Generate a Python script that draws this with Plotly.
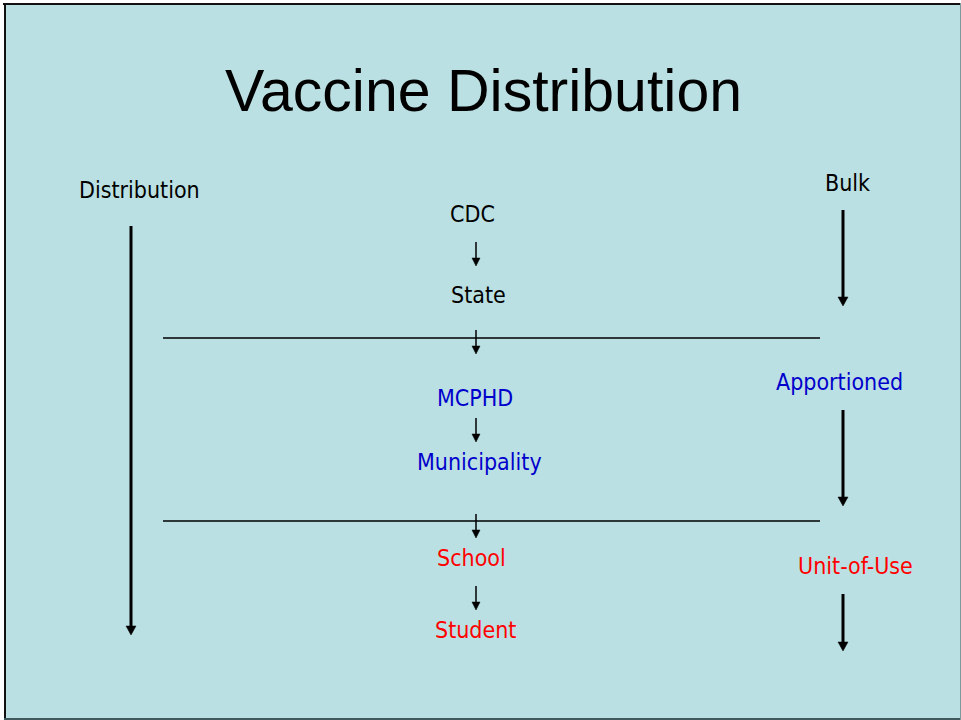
import plotly.graph_objects as go

# ---- content ----
title_text = "Vaccine Distribution"
center_labels = ["CDC", "State", "MCPHD", "Municipality", "School", "Student"]
center_colors = ["#000000", "#000000", "#0000CC", "#0000CC", "#FF0000", "#FF0000"]
side_labels = ["Distribution", "Bulk", "Apportioned", "Unit-of-Use"]
side_colors = ["#000000", "#000000", "#0000CC", "#FF0000"]

# ---- layout positions (pixel space, y downward) ----
center_x = [472, 478, 475, 479, 471, 475]
center_y = [214, 295, 398, 462, 558, 630]
side_x = [139, 847, 839, 855]
side_y = [190, 183, 382, 566]

small_arrow_x = 476
small_arrows = [(242, 266), (330, 354), (418, 442), (514, 538), (586, 610)]
big_arrows = [(131, 226, 635), (843, 210, 306), (843, 410, 506), (843, 594, 651)]
divider_y = [338, 521]
divider_x = (163, 820)

W, H = 961, 720
BG = "#BBE0E3"
FONT = "Tahoma, 'DejaVu Sans Condensed', 'Noto Sans', sans-serif"

fig = go.Figure()
shapes = []
annotations = []

# slide background and border
shapes.append(dict(type="rect", xref="x", yref="y", x0=4, x1=961, y0=3, y1=720,
                   fillcolor=BG, line=dict(width=0), layer="below"))
shapes.append(dict(type="line", x0=3, x1=961, y0=4, y1=4, line=dict(color="#111111", width=2)))
shapes.append(dict(type="line", x0=5, x1=5, y0=3, y1=720, line=dict(color="#111111", width=2)))
shapes.append(dict(type="line", x0=4, x1=961, y0=719, y1=719, line=dict(color="#3f5a5e", width=2)))
shapes.append(dict(type="line", x0=960.5, x1=960.5, y0=3, y1=720, line=dict(color="#7a9a9c", width=1)))

# divider lines
for y in divider_y:
    shapes.append(dict(type="line", x0=divider_x[0], x1=divider_x[1], y0=y, y1=y,
                       line=dict(color="#000000", width=1.3)))


def arrow(x, y0, y1, width, hw, hl):
    shapes.append(dict(type="line", x0=x, x1=x, y0=y0, y1=y1 - hl + 1,
                       line=dict(color="#000000", width=width)))
    shapes.append(dict(type="path",
                       path=f"M {x-hw},{y1-hl} L {x+hw},{y1-hl} L {x},{y1} Z",
                       fillcolor="#000000", line=dict(color="#000000", width=0.5)))


for y0, y1 in small_arrows:
    arrow(small_arrow_x, y0, y1, 1.5, 4, 8)
for x, y0, y1 in big_arrows:
    arrow(x, y0, y1, 3, 5, 9)

# title
annotations.append(dict(x=483.5, y=91, text=title_text, showarrow=False,
                        xanchor="center", yanchor="middle",
                        font=dict(family="'Liberation Sans', Arial, sans-serif", size=59, color="#000000")))

for t, c, x, y in zip(center_labels, center_colors, center_x, center_y):
    annotations.append(dict(x=x, y=y, text=t, showarrow=False, xanchor="center", yanchor="middle",
                            font=dict(family=FONT, size=23, color=c)))
for t, c, x, y in zip(side_labels, side_colors, side_x, side_y):
    annotations.append(dict(x=x, y=y, text=t, showarrow=False, xanchor="center", yanchor="middle",
                            font=dict(family=FONT, size=23, color=c)))

fig.update_layout(
    width=W, height=H, margin=dict(l=0, r=0, t=0, b=0),
    paper_bgcolor="#FFFFFF", plot_bgcolor="#FFFFFF",
    xaxis=dict(range=[0, W], visible=False, fixedrange=True),
    yaxis=dict(range=[H, 0], visible=False, fixedrange=True),
    shapes=shapes, annotations=annotations, showlegend=False,
)

fig.write_html("out.html", config={"displayModeBar": False},
               post_script="document.body.style.margin='0';document.body.style.overflow='hidden';")
